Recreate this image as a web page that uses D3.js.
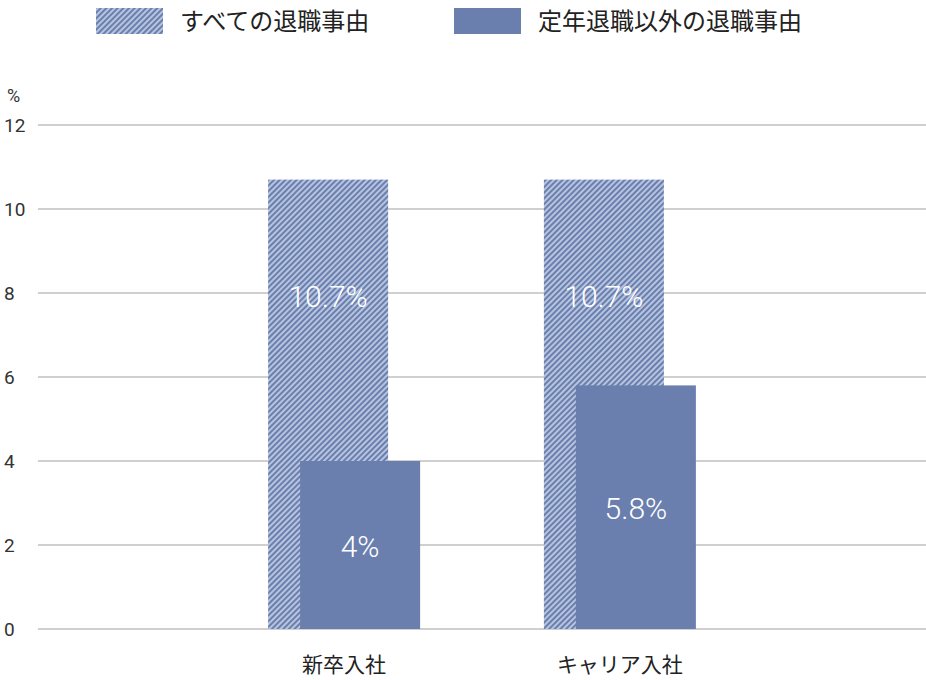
<!DOCTYPE html>
<html><head><meta charset="utf-8">
<script src="https://cdn.jsdelivr.net/npm/d3@7"></script>
<style>body{margin:0;background:#fff}text{font-family:Roboto,"Noto Sans CJK JP",sans-serif}</style>
</head><body><svg id="c" width="926" height="680"></svg>
<script>
const categories=["新卒入社","キャリア入社"];
const allReasons=[10.7,10.7];
const nonRetire=[4,5.8];
const allLabels=["10.7%","10.7%"];
const nonLabels=["4%","5.8%"];
const ticks=[0,2,4,6,8,10,12];
const seriesNames=["すべての退職事由","定年退職以外の退職事由"];

const svg=d3.select("#c");
const defs=svg.append("defs");
const pat=defs.append("pattern").attr("id","hatch").attr("patternUnits","userSpaceOnUse")
 .attr("width",4).attr("height",4).attr("patternTransform","rotate(45)");
pat.append("rect").attr("width",4).attr("height",4).attr("fill","#b7c4df");
pat.append("rect").attr("width",2).attr("height",4).attr("fill","#6a7fae");

const y=d3.scaleLinear().domain([0,12]).range([629,125]);
const x=d3.scalePoint().domain(categories).range([38,926]).padding(1.11);
const dark="#6a7fae";

svg.append("g").selectAll("line").data(ticks).join("line")
 .attr("x1",38).attr("x2",926).attr("y1",d=>y(d)).attr("y2",d=>y(d))
 .attr("stroke","#d0d0d0").attr("stroke-width",2);
svg.append("g").selectAll("text").data(ticks).join("text")
 .attr("x",4).attr("y",d=>y(d)+7).text(d=>d).attr("font-size",19).attr("fill","#333");
svg.append("text").attr("x",7).attr("y",102).text("%").attr("font-size",18).attr("fill","#333");

svg.append("g").selectAll("rect").data(categories).join("rect")
 .attr("x",d=>x(d)-76).attr("width",120).attr("y",(d,i)=>y(allReasons[i]))
 .attr("height",(d,i)=>y(0)-y(allReasons[i])).attr("fill","url(#hatch)");
svg.append("g").selectAll("rect").data(categories).join("rect")
 .attr("x",d=>x(d)-44).attr("width",120).attr("y",(d,i)=>y(nonRetire[i]))
 .attr("height",(d,i)=>y(0)-y(nonRetire[i])).attr("fill",dark);

svg.append("g").selectAll("text").data(categories).join("text")
 .attr("x",d=>x(d)-16).attr("y",(d,i)=>y(allReasons[i])+127).attr("text-anchor","middle")
 .attr("font-size",30).attr("font-weight",300).attr("fill","#fff").text((d,i)=>allLabels[i]);
svg.append("g").selectAll("text").data(categories).join("text")
 .attr("x",d=>x(d)+16).attr("y",(d,i)=>y(nonRetire[i])+(y(0)-y(nonRetire[i]))/2+12).attr("text-anchor","middle")
 .attr("font-size",30).attr("font-weight",300).attr("fill","#fff").text((d,i)=>nonLabels[i]);

svg.append("g").selectAll("text").data(categories).join("text")
 .attr("x",d=>x(d)).attr("y",672).attr("text-anchor","middle")
 .attr("font-size",21).attr("fill","#222").text(d=>d);

const lg=[{x:96,f:"url(#hatch)"},{x:454,f:dark}];
lg.forEach((l,i)=>{
 svg.append("rect").attr("x",l.x).attr("y",8).attr("width",67).attr("height",26).attr("fill",l.f);
 svg.append("text").attr("x",l.x+84).attr("y",30).attr("font-size",24).attr("fill","#222").text(seriesNames[i]);
});
</script></body></html>
